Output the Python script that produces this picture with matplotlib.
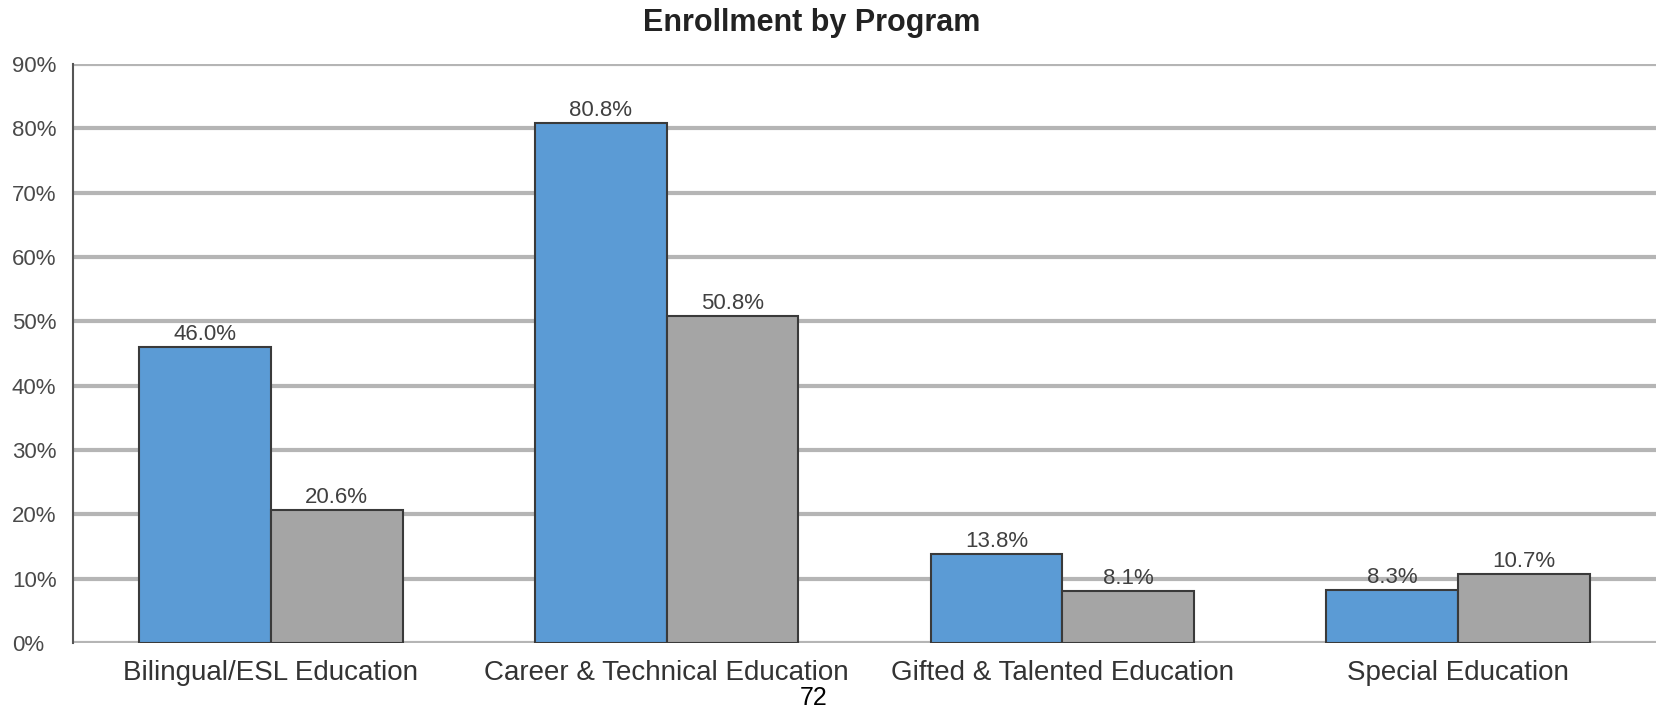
import matplotlib
matplotlib.use("Agg")
import matplotlib.pyplot as plt
import numpy as np

categories = ["Bilingual/ESL Education", "Career & Technical Education",
              "Gifted & Talented Education", "Special Education"]
series_a = [46.0, 80.8, 13.8, 8.3]
series_b = [20.6, 50.8, 8.1, 10.7]
yticks = [0, 10, 20, 30, 40, 50, 60, 70, 80, 90]

plt.rcParams['font.family'] = ['Liberation Sans', 'DejaVu Sans']

W, H = 1659, 708
fig = plt.figure(figsize=(W / 100, H / 100), dpi=100)
ax = fig.add_axes([73 / W, 1 - 643 / H, (1656 - 73) / W, (643 - 64) / H])

x = np.arange(len(categories))
bw = 0.333
ba = ax.bar(x - bw / 2, series_a, bw, color="#5b9bd5", edgecolor="#3a3a3a", linewidth=1.5, zorder=3)
bb = ax.bar(x + bw / 2, series_b, bw, color="#a5a5a5", edgecolor="#3a3a3a", linewidth=1.5, zorder=3)

for bars, vals in ((ba, series_a), (bb, series_b)):
    for r, v in zip(bars, vals):
        ax.annotate(f"{v:.1f}%", (r.get_x() + r.get_width() / 2, v),
                    xytext=(0, 1.5), textcoords="offset points",
                    ha="center", va="bottom", fontsize=16, color="#404040", zorder=4)

ax.set_xlim(-0.5, len(categories) - 0.5)
ax.set_ylim(0, 90)
ax.set_yticks(yticks)
ax.set_yticklabels([f"{t}%" for t in yticks], fontsize=16, color="#4a4a4a")
for lab in ax.get_yticklabels():
    lab.set_horizontalalignment("left")
ax.set_xticks(x)
ax.set_xticklabels(categories, fontsize=20, color="#333333")
ax.tick_params(axis="x", length=0, pad=12)
ax.tick_params(axis="y", length=0, pad=44)

ax.yaxis.grid(True, color="#b5b5b5", linewidth=3, zorder=0)
ax.set_axisbelow(True)
for s in ("top", "right", "bottom"):
    ax.spines[s].set_visible(False)
ax.spines["left"].set_color("#555555")
ax.spines["left"].set_linewidth(1.5)

fig.text(812 / W, 1 - 23 / H, "Enrollment by Program", ha="center", va="center",
         fontsize=22, fontweight="bold", color="#222222")
fig.text(814 / W, 1 - 705 / H, "72", ha="center", va="baseline", fontsize=18, color="#000000")

fig.savefig("out.png", dpi=100)
